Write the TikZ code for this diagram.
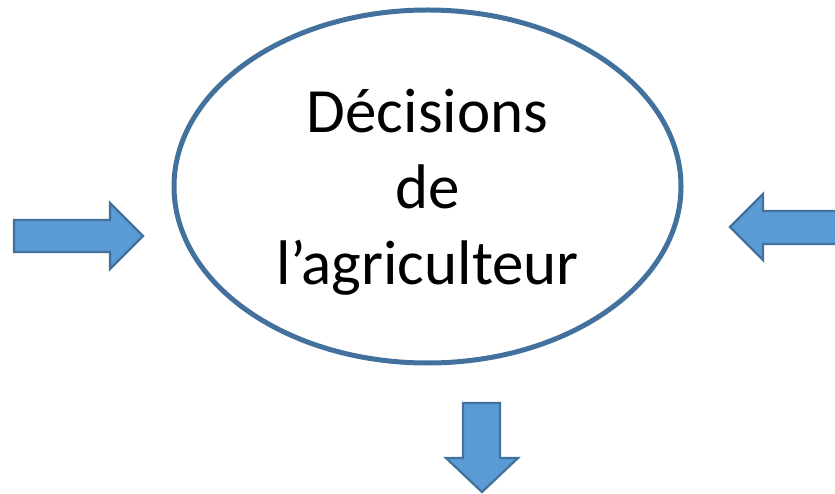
\documentclass[tikz,border=0pt]{standalone}
\usepackage{fontspec}
\setmainfont{Carlito}
\usetikzlibrary{shapes.geometric}
\definecolor{bordbleu}{HTML}{41719C}
\definecolor{fondbleu}{HTML}{5B9BD5}

\begin{document}
\begin{tikzpicture}[x=1pt,y=-1pt,
    fleche/.style={draw=bordbleu,fill=fondbleu,line width=2.2pt,line join=miter},
    cercle/.style={ellipse,draw=bordbleu,line width=5pt,minimum width=507pt,minimum height=353pt,inner sep=0pt},
    texte/.style={align=center,inner sep=0pt,font=\fontsize{63}{76}\selectfont}]
   \useasboundingbox (0,0) rectangle (835,494);
   \node[cercle] (decisions) at (427.5,186.5) {};
   \node[texte] (libelle) at ([yshift=-6pt]decisions.center) {Décisions\\de\\l’agriculteur};
   % entree gauche
   \draw[fleche] (14,220) -- (110,220) -- (110,203) -- (143,236) -- (110,269) -- (110,252) -- (14,252) -- cycle;
   % entree droite
   \draw[fleche] (845,211) -- (763,211) -- (763,194) -- (730,227) -- (763,260) -- (763,244) -- (845,244) -- cycle;
   % sortie
   \draw[fleche] (463,403) -- (500,403) -- (500,458) -- (518,458) -- (482,492) -- (446,458) -- (463,458) -- cycle;
\end{tikzpicture}
\end{document}
